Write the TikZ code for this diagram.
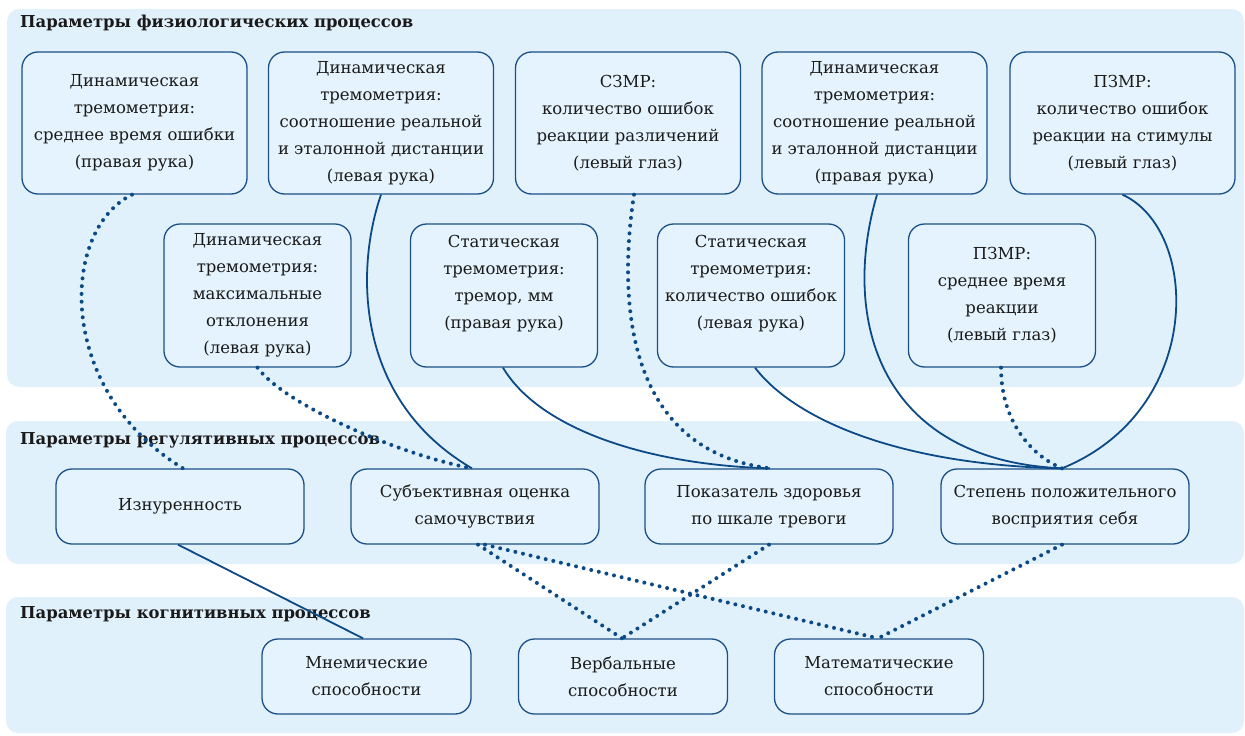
\documentclass[tikz,border=0pt]{standalone}
\usepackage{fontspec}
\setmainfont{DejaVu Serif}
\definecolor{panelfill}{HTML}{E1F1FC}
\definecolor{boxfill}{HTML}{E4F3FD}
\definecolor{boxline}{HTML}{1B5087}
\definecolor{conn}{HTML}{0B4A86}
\definecolor{txt}{HTML}{1A1A1A}
\begin{document}
\begin{tikzpicture}[x=1pt,y=1pt,
  panel/.style={fill=panelfill, draw=none, rounded corners=12pt},
  ptitle/.style={anchor=west, inner sep=0pt, text=txt, font=\fontsize{16.4}{18}\selectfont\bfseries},
  box/.style={draw=boxline, line width=1.3pt, fill=boxfill, rounded corners=16pt,
    align=center, inner sep=0pt, text=txt, font=\fontsize{16.5}{27}\selectfont},
  topbox/.style={box, minimum width=225pt, minimum height=142pt},
  midbox/.style={box, minimum width=187pt, minimum height=143pt},
  regbox/.style={box, minimum width=248pt, minimum height=75pt},
  cogbox/.style={box, minimum width=209pt, minimum height=75pt},
  solidline/.style={draw=conn, line width=1.8pt},
  dotline/.style={draw=conn, line width=4pt, line cap=round, dash pattern=on 0pt off 7.8pt}
]
\useasboundingbox (0,0) rectangle (1245,-736);
% panels
\fill[panel] (7,-9) rectangle (1244,-387);
\fill[panel] (6,-421) rectangle (1244,-564);
\fill[panel] (6,-597) rectangle (1244,-733);
\node[ptitle] (h1) at (20,-23) {Параметры физиологических процессов};
\node[ptitle] (h2) at (20,-440) {Параметры регулятивных процессов};
\node[ptitle] (h3) at (20,-614) {Параметры когнитивных процессов};
% top row
\node[topbox] (t1) at (134.5,-123) {Динамическая\\тремометрия:\\среднее время ошибки\\(правая рука)};
\node[topbox] (t2) at (381,-123) {Динамическая\\тремометрия:\\соотношение реальной\\и эталонной дистанции\\(левая рука)};
\node[topbox] (t3) at (628,-123) {СЗМР:\\количество ошибок\\реакции различений\\(левый глаз)};
\node[topbox] (t4) at (874.5,-123) {Динамическая\\тремометрия:\\соотношение реальной\\и эталонной дистанции\\(правая рука)};
\node[topbox] (t5) at (1122.5,-123) {ПЗМР:\\количество ошибок\\реакции на стимулы\\(левый глаз)};
% second row
\node[midbox] (r1) at (257.5,-295.5) {Динамическая\\тремометрия:\\максимальные\\отклонения\\(левая рука)};
\node[midbox] (r2) at (504,-295.5) {Статическая\\тремометрия:\\тремор, мм\\(правая рука)\\~};
\node[midbox] (r3) at (751,-295.5) {Статическая\\тремометрия:\\количество ошибок\\(левая рука)\\~};
\node[midbox] (r4) at (1002,-295.5) {ПЗМР:\\среднее время\\реакции\\(левый глаз)};
% regulative row
\node[regbox] (g1) at (180,-506.5) {Изнуренность};
\node[regbox] (g2) at (475,-506.5) {Субъективная оценка\\самочувствия};
\node[regbox] (g3) at (769,-506.5) {Показатель здоровья\\по шкале тревоги};
\node[regbox] (g4) at (1065,-506.5) {Степень положительного\\восприятия себя};
% cognitive row
\node[cogbox] (c1) at (366.5,-676.5) {Мнемические\\способности};
\node[cogbox] (c2) at (623,-676.5) {Вербальные\\способности};
\node[cogbox] (c3) at (879,-676.5) {Математические\\способности};
% connectors: physiological -> regulative
\draw[dotline] ([xshift=-2.5pt]t1.south) .. controls (60,-230) and (55,-390) .. ([xshift=3pt]g1.north);
\draw[solidline] (t2.south) .. controls (355,-270) and (355,-400) .. ([xshift=-3pt]g2.north);
\draw[dotline] (r1.south) .. controls (285,-405) and (400,-455) .. ([xshift=-3pt]g2.north);
\draw[solidline] ([xshift=-1pt]r2.south) .. controls (540,-430) and (650,-465) .. ([xshift=1pt]g3.north);
\draw[dotline] ([xshift=6pt]t3.south) .. controls (618,-300) and (625,-450) .. ([xshift=1pt]g3.north);
\draw[solidline] ([xshift=4pt]r3.south) .. controls (795,-420) and (900,-465) .. ([xshift=-3pt]g4.north);
\draw[solidline] ([xshift=2.5pt]t4.south) .. controls (840,-320) and (880,-460) .. ([xshift=-3pt]g4.north);
\draw[solidline] (t5.south) .. controls (1200,-230) and (1205,-410) .. ([xshift=-3pt]g4.north);
\draw[dotline] ([xshift=-1pt]r4.south) .. controls (1001,-420) and (1030,-455) .. ([xshift=-3pt]g4.north);
% connectors: regulative -> cognitive
\draw[solidline] ([xshift=-2pt]g1.south) -- ([xshift=-3.5pt]c1.north);
\draw[dotline] ([xshift=3pt]g2.south) -- ([xshift=-1pt]c2.north);
\draw[dotline] ([xshift=10pt]g2.south) -- ([xshift=-1pt]c3.north);
\draw[dotline] (g3.south) -- ([xshift=-1pt]c2.north);
\draw[dotline] ([xshift=-3pt]g4.south) -- ([xshift=-1pt]c3.north);
\end{tikzpicture}
\end{document}
